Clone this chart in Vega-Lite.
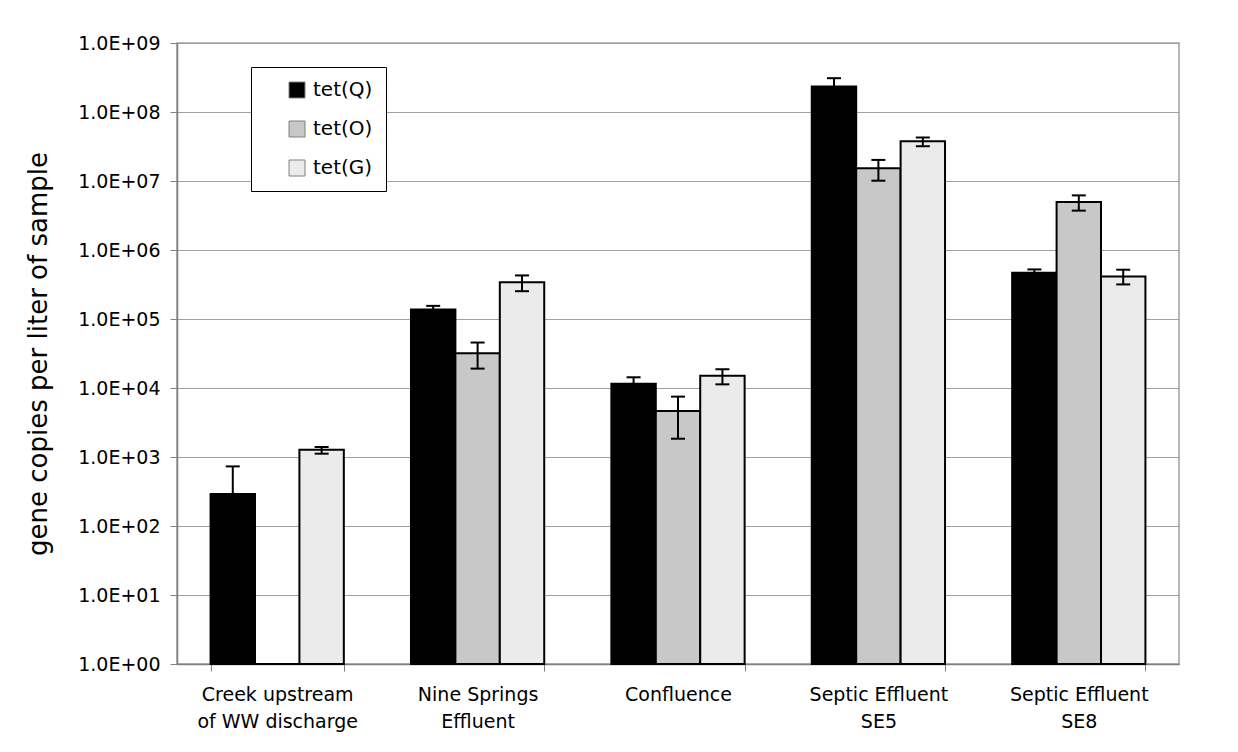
{
  "$schema": "https://vega.github.io/schema/vega-lite/v6.json",
  "width": 1002,
  "height": 621,
  "autosize": {"type": "none"},
  "padding": {"left": 177, "top": 43, "right": 59, "bottom": 88},
  "background": "white",
  "config": {
    "font": "DejaVu Sans",
    "view": {"stroke": "#a0a0a0", "strokeWidth": 1.5}
  },
  "data": {
    "values": [
      {"site": "Creek upstream|of WW discharge", "gene": "tet(Q)", "value": 290, "base": 1, "lo": 290, "hi": 731},
      {"site": "Creek upstream|of WW discharge", "gene": "tet(O)", "value": 1, "base": 1, "lo": null, "hi": null},
      {"site": "Creek upstream|of WW discharge", "gene": "tet(G)", "value": 1277, "base": 1, "lo": 1117, "hi": 1397},
      {"site": "Nine Springs|Effluent", "gene": "tet(Q)", "value": 137000, "base": 1, "lo": 119000, "hi": 155000},
      {"site": "Nine Springs|Effluent", "gene": "tet(O)", "value": 31900, "base": 1, "lo": 19100, "hi": 45600},
      {"site": "Nine Springs|Effluent", "gene": "tet(G)", "value": 342000, "base": 1, "lo": 253000, "hi": 428000},
      {"site": "Confluence", "gene": "tet(Q)", "value": 11500, "base": 1, "lo": 8700, "hi": 14300},
      {"site": "Confluence", "gene": "tet(O)", "value": 4650, "base": 1, "lo": 1840, "hi": 7500},
      {"site": "Confluence", "gene": "tet(G)", "value": 15000, "base": 1, "lo": 11300, "hi": 18700},
      {"site": "Septic Effluent|SE5", "gene": "tet(Q)", "value": 234000000, "base": 1, "lo": 159000000, "hi": 309000000},
      {"site": "Septic Effluent|SE5", "gene": "tet(O)", "value": 15300000, "base": 1, "lo": 10100000, "hi": 20200000},
      {"site": "Septic Effluent|SE5", "gene": "tet(G)", "value": 37700000, "base": 1, "lo": 31900000, "hi": 42700000},
      {"site": "Septic Effluent|SE8", "gene": "tet(Q)", "value": 468000, "base": 1, "lo": 413000, "hi": 523000},
      {"site": "Septic Effluent|SE8", "gene": "tet(O)", "value": 4950000, "base": 1, "lo": 3720000, "hi": 6190000},
      {"site": "Septic Effluent|SE8", "gene": "tet(G)", "value": 414000, "base": 1, "lo": 317000, "hi": 518000}
    ]
  },
  "encoding": {
    "x": {
      "field": "site",
      "type": "nominal",
      "sort": null,
      "scale": {"paddingInner": 0.335, "paddingOuter": 0.1675},
      "axis": {
        "title": null,
        "labelAngle": 0,
        "labelExpr": "split(datum.label, '|')",
        "tickBand": "extent",
        "tickSize": 7,
        "tickColor": "#808080",
        "domainColor": "#808080",
        "domainWidth": 1.5,
        "labelFontSize": 19,
        "labelLineHeight": 27,
        "labelPadding": 14,
        "labelColor": "#000000",
        "labelBaseline": "top"
      }
    },
    "xOffset": {
      "field": "gene",
      "type": "nominal",
      "sort": ["tet(Q)", "tet(O)", "tet(G)"],
      "scale": {"paddingInner": 0, "paddingOuter": 0}
    }
  },
  "layer": [
    {
      "mark": {"type": "bar", "stroke": "#000000", "strokeWidth": 2},
      "encoding": {
        "y": {
          "field": "value",
          "type": "quantitative",
          "stack": null,
          "title": "gene copies per liter of sample",
          "scale": {"type": "log", "domain": [1, 1000000000], "nice": false},
          "axis": {
            "values": [1, 10, 100, 1000, 10000, 100000, 1000000, 10000000, 100000000, 1000000000],
            "labelExpr": "'1.0E+0' + round(log(datum.value) / LN10)",
            "grid": true,
            "gridColor": "#a0a0a0",
            "gridWidth": 1.2,
            "domainColor": "#808080",
            "domainWidth": 1.5,
            "tickColor": "#808080",
            "tickSize": 7,
            "labelFontSize": 19,
            "labelColor": "#000000",
            "labelPadding": 10,
            "titleFontSize": 26,
            "titleFontWeight": "normal",
            "titleColor": "#000000",
            "titlePadding": 26
          }
        },
        "y2": {"field": "base"},
        "color": {
          "field": "gene",
          "type": "nominal",
          "sort": ["tet(Q)", "tet(O)", "tet(G)"],
          "scale": {"domain": ["tet(Q)", "tet(O)", "tet(G)"], "range": ["#000000", "#c8c8c8", "#ebebeb"]},
          "legend": {
            "orient": "none",
            "legendX": 74,
            "legendY": 24,
            "title": null,
            "symbolType": "square",
            "symbolSize": 256,
            "symbolStrokeColor": "#808080",
            "symbolStrokeWidth": 1,
            "labelFontSize": 20,
            "labelColor": "#000000",
            "labelOffset": 6,
            "rowPadding": 19,
            "padding": 13,
            "symbolOffset": 23,
            "strokeColor": "#000000",
            "fillColor": "#ffffff"
          }
        }
      }
    },
    {
      "mark": {"type": "rule", "color": "#000000", "strokeWidth": 2},
      "encoding": {
        "y": {"field": "lo", "type": "quantitative", "title": "gene copies per liter of sample"},
        "y2": {"field": "hi"}
      }
    },
    {
      "mark": {"type": "point", "shape": "M -1 0 L 1 0", "size": 196, "filled": false, "stroke": "#000000", "strokeWidth": 2, "opacity": 1},
      "encoding": {
        "y": {"field": "hi", "type": "quantitative", "title": "gene copies per liter of sample"}
      }
    },
    {
      "mark": {"type": "point", "shape": "M -1 0 L 1 0", "size": 196, "filled": false, "stroke": "#000000", "strokeWidth": 2, "opacity": 1},
      "encoding": {
        "y": {"field": "lo", "type": "quantitative", "title": "gene copies per liter of sample"}
      }
    }
  ]
}
